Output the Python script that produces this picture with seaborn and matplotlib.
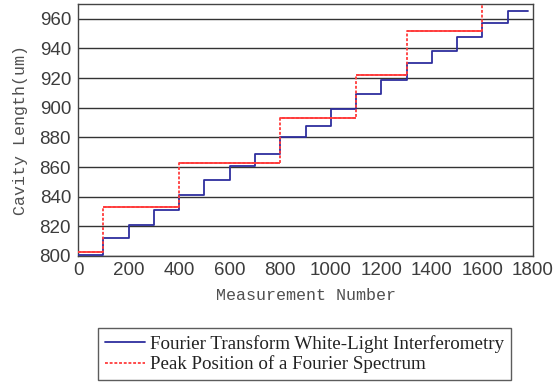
import matplotlib
matplotlib.use("Agg")
import matplotlib.pyplot as plt
import seaborn as sns
import pandas as pd

# Step levels of the cavity length (um) versus measurement number
ftwli_x = [0, 100, 200, 300, 400, 500, 600, 700, 800, 900, 1000, 1100,
           1200, 1300, 1400, 1500, 1600, 1700, 1780]
ftwli_y = [801, 812, 821, 831, 841, 851, 861, 869, 880, 888, 899, 909,
           919, 930, 938, 948, 957, 965, 965]

peak_x = [0, 100, 400, 800, 1100, 1300, 1600, 1780]
peak_y = [803, 833, 863, 893, 922, 952, 990, 990]

y_ticks = [800, 820, 840, 860, 880, 900, 920, 940, 960]
x_ticks = [0, 200, 400, 600, 800, 1000, 1200, 1400, 1600, 1800]

label_ftwli = "Fourier Transform White-Light Interferometry"
label_peak = "Peak Position of a Fourier Spectrum"

RED = "#ff3b3b"
BLUE = "#2e2e9e"

sns.set_theme(style="white")
plt.rcParams["font.family"] = ["Liberation Sans", "DejaVu Sans"]

fig = plt.figure(figsize=(5.53, 3.83), dpi=100)
ax = fig.add_axes([78 / 553, 1 - 256 / 383, 455 / 553, 252 / 383])

df_f = pd.DataFrame({"n": ftwli_x, "L": ftwli_y})
df_p = pd.DataFrame({"n": peak_x, "L": peak_y})

sns.lineplot(data=df_f, x="n", y="L", ax=ax, color=BLUE, linewidth=1.3,
             drawstyle="steps-post", label=label_ftwli, zorder=3)
sns.lineplot(data=df_p, x="n", y="L", ax=ax, color=RED, linewidth=1.3,
             drawstyle="steps-post", dashes=False, label=label_peak, zorder=4)
ax.lines[1].set_dashes((1.6, 1.0))
# the flat plateaus of the peak-position trace read as continuous strokes
ax.hlines(peak_y[:-1], peak_x[:-1], peak_x[1:], color=RED, linewidth=1.3, zorder=4)

ax.set_xlim(0, 1800)
ax.set_ylim(800, 970)
ax.set_xticks(x_ticks)
ax.set_yticks(y_ticks)
ax.yaxis.grid(True, color="#333333", linewidth=1.0)
ax.xaxis.grid(False)

for s in ax.spines.values():
    s.set_color("#444444")
    s.set_linewidth(1.0)

ax.tick_params(axis="both", direction="in", length=4, width=1,
               color="#444444", labelsize=13.5, labelcolor="#3c3c3c", pad=4)
ax.tick_params(axis="y", length=0, pad=5)

ax.set_xlabel("Measurement Number", family="Liberation Mono", fontsize=12,
              color="#505050", labelpad=7)
ax.set_ylabel("Cavity Length(um)", family="Liberation Mono", fontsize=12,
              color="#505050", labelpad=8)

ax.get_legend().remove()
handles, labels = ax.get_legend_handles_labels()
leg = fig.legend(handles, labels, loc="center", bbox_to_anchor=(304.5 / 553, 1 - 354 / 383),
                 frameon=True, fancybox=False, handlelength=2.1, handletextpad=0.25,
                 labelspacing=0.15, borderpad=0.35,
                 prop={"family": "Liberation Serif", "size": 13.7})
leg.get_frame().set_edgecolor("#333333")
leg.get_frame().set_linewidth(1.0)
for t in leg.get_texts():
    t.set_color("#222222")

fig.savefig("out.png", dpi=100)
